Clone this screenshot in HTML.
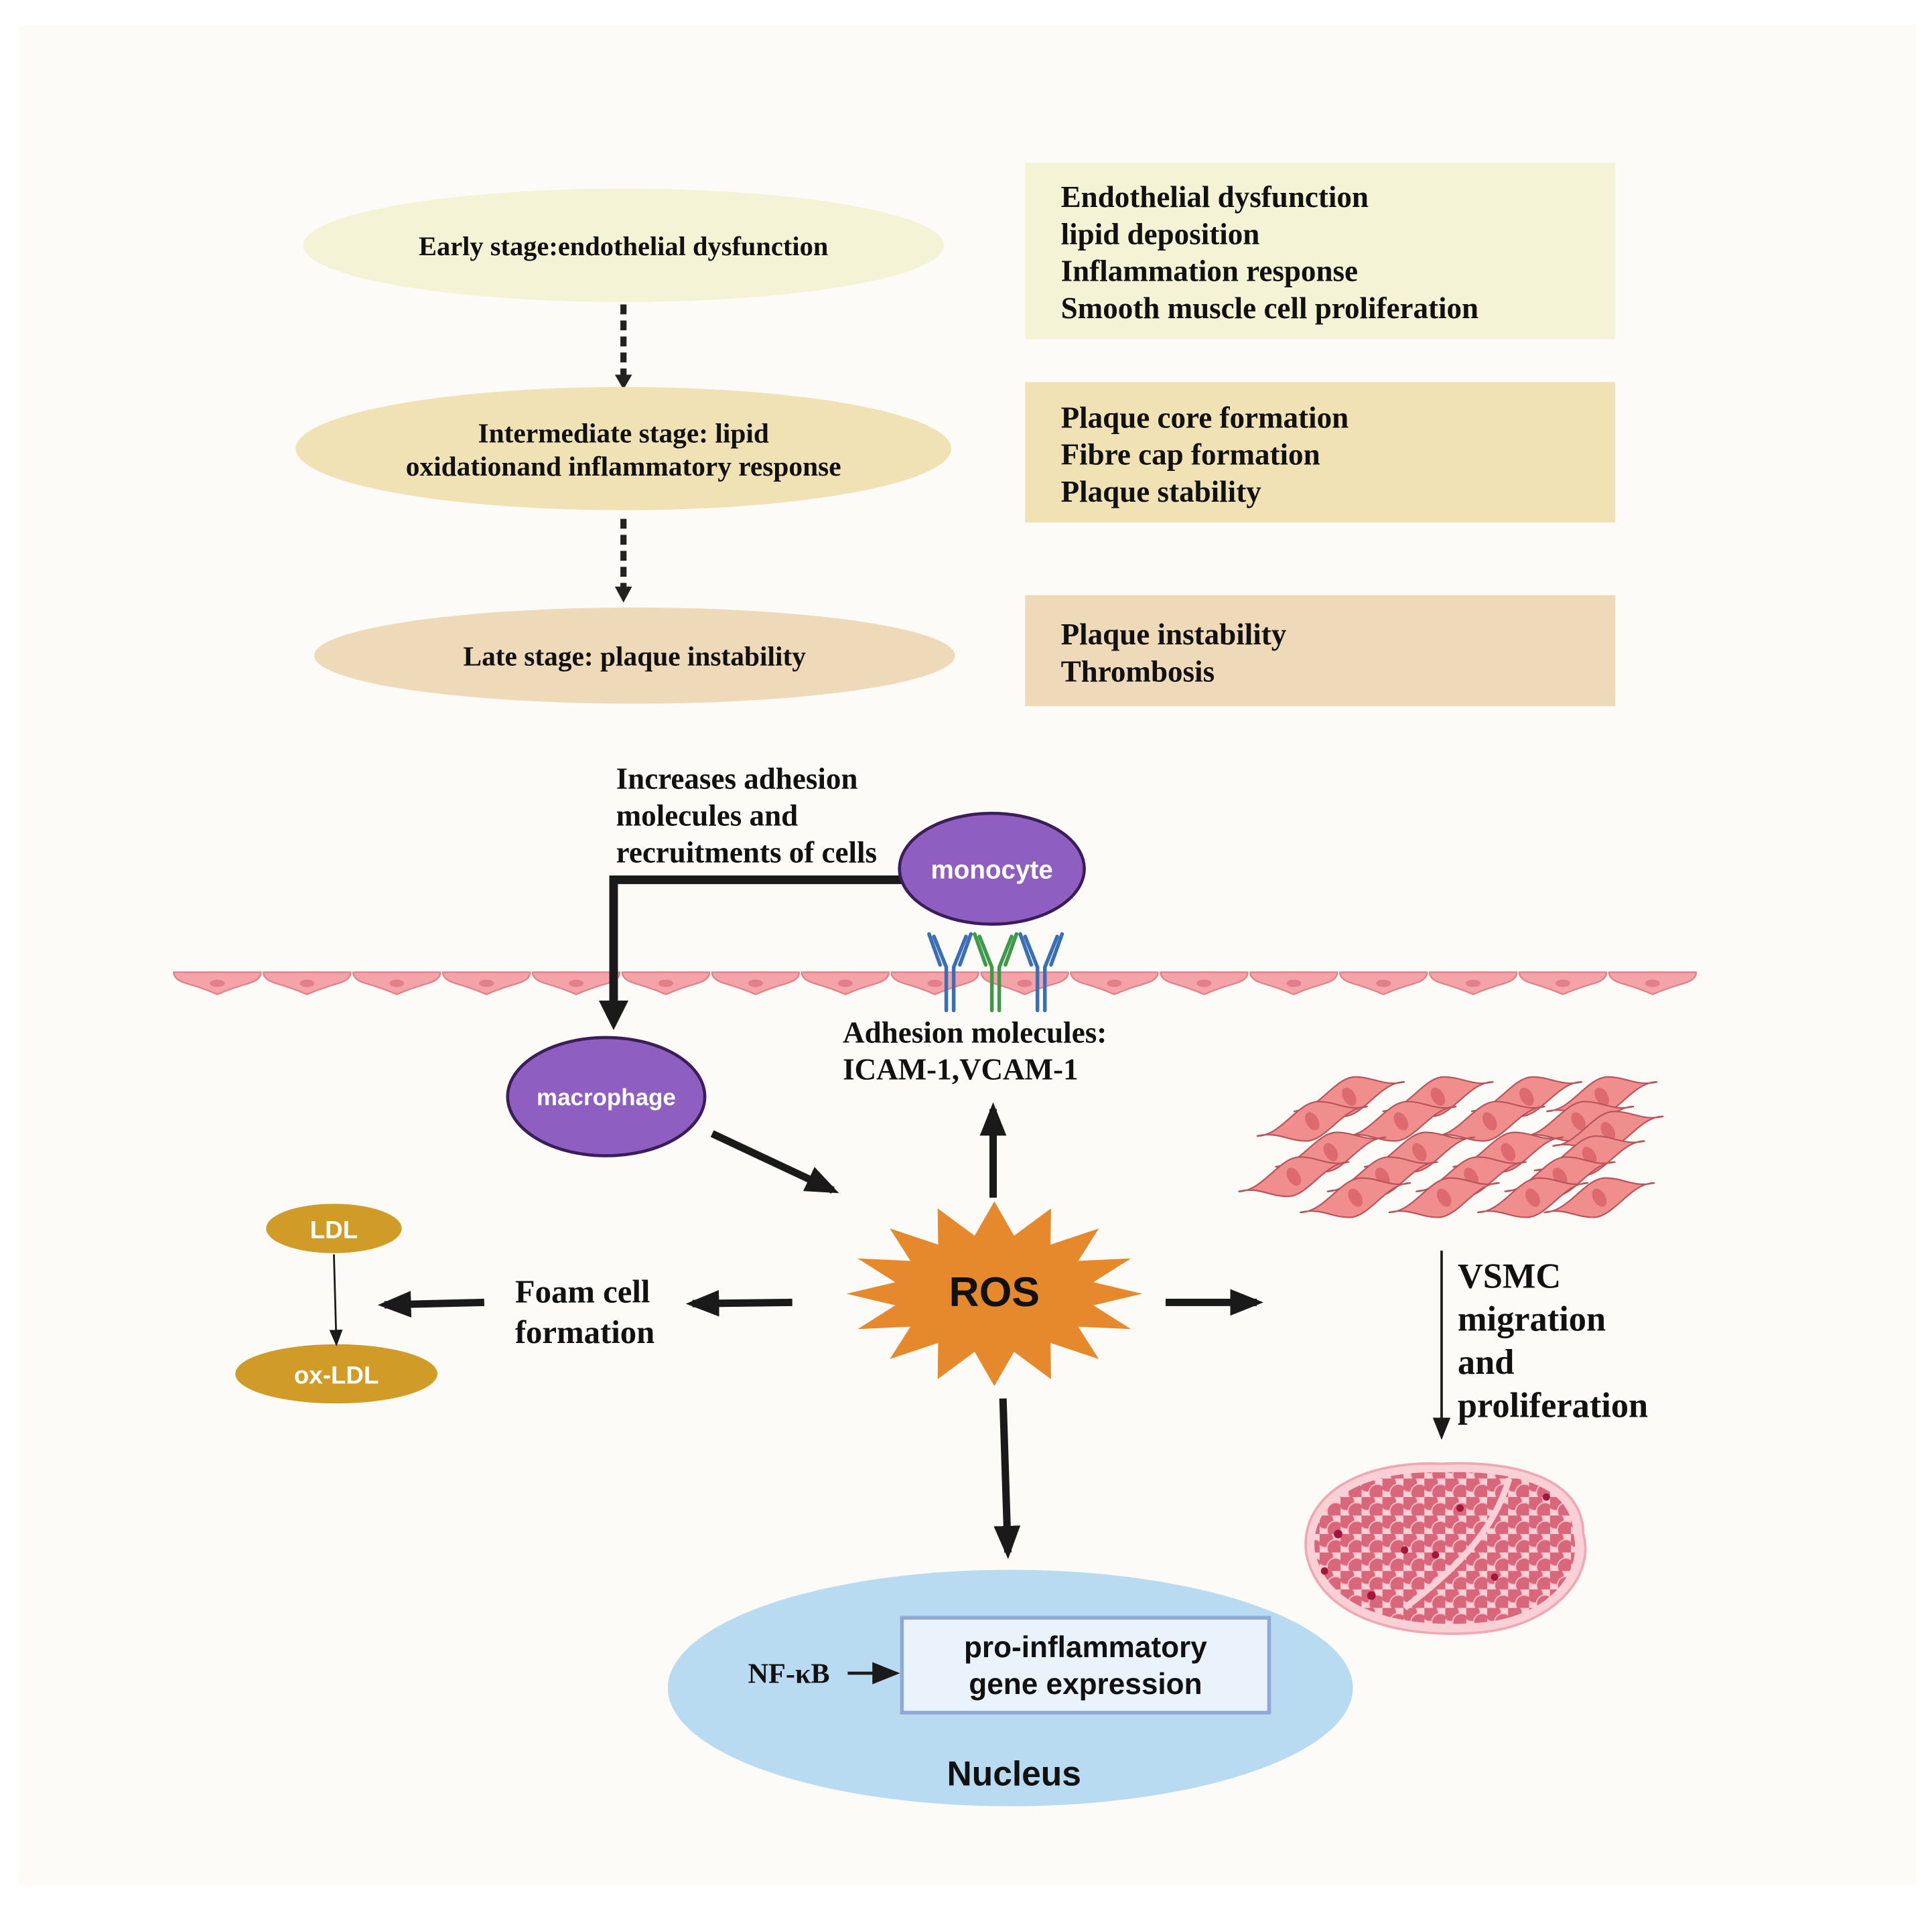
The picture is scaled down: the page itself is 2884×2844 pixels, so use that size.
<!DOCTYPE html>
<html><head><meta charset="utf-8"><style>
html,body{margin:0;padding:0;background:#fff;}
svg{display:block;}
.s{font-family:"Liberation Serif",serif;font-weight:bold;fill:#111;}
.a{font-family:"Liberation Sans",sans-serif;font-weight:bold;}
</style></head><body>
<svg width="2884" height="2844" viewBox="0 0 1568 1546" xmlns="http://www.w3.org/2000/svg">
<defs>
<marker id="ah2" viewBox="0 0 10 10" refX="8" refY="5" markerWidth="9" markerHeight="9" orient="auto"><path d="M0,1 L10,5 L0,9 Z" fill="#1a1a1a"/></marker>
<marker id="ah3" viewBox="0 0 10 10" refX="8" refY="5" markerWidth="4.5" markerHeight="4.5" orient="auto"><path d="M0,1 L10,5 L0,9 Z" fill="#1a1a1a"/></marker>
<pattern id="endo" x="140" y="785" width="72.8" height="30" patternUnits="userSpaceOnUse">
<path d="M1,4 L71.8,4 Q72,10 62,13 Q48,17 36.4,22 Q25,17 11,13 Q1,10 1,4 Z" fill="#f4a4a8" stroke="#df7f86" stroke-width="1.2"/>
<ellipse cx="36.4" cy="13" rx="6" ry="3" fill="#e27f88"/>
</pattern>
<pattern id="cl" x="0" y="0" width="17" height="15" patternUnits="userSpaceOnUse">
<circle cx="4.5" cy="4" r="7" fill="#d9667a" stroke="#f3c3cb" stroke-width="1"/>
<circle cx="13" cy="11.5" r="7" fill="#d9667a" stroke="#f3c3cb" stroke-width="1"/>
</pattern>
<g id="sp"><path d="M-45,12 C-25,12 -12,-16 5,-16 C20,-16 28,-8 45,-12 C25,-12 12,16 -5,16 C-20,16 -28,8 -45,12 Z" fill="#f08e8e" stroke="#b9545a" stroke-width="1.2"/><ellipse cx="0" cy="0" rx="5" ry="8" transform="rotate(-30)" fill="#dc6a6e"/></g>
</defs>
<rect width="1568" height="1546" fill="#fff"/>
<rect x="15" y="20" width="1540" height="1510" fill="#fcfbf7"/>

<ellipse cx="506" cy="199" rx="260" ry="46" fill="#f5f3d6"/>
<text x="506" y="207" text-anchor="middle" class="s" font-size="22">Early stage:endothelial dysfunction</text>
<line x1="506" y1="247" x2="506" y2="306" stroke="#222" stroke-width="5" stroke-dasharray="8,5"/>
<path d="M499,304 L513,304 L506,316 Z" fill="#222"/>
<ellipse cx="506" cy="364" rx="266" ry="50" fill="#f1e2b5"/>
<text x="506" y="359" text-anchor="middle" class="s" font-size="22.5">Intermediate stage: lipid</text>
<text x="506" y="386" text-anchor="middle" class="s" font-size="22.5">oxidationand inflammatory response</text>
<line x1="506" y1="421" x2="506" y2="478" stroke="#222" stroke-width="5" stroke-dasharray="8,5"/>
<path d="M499,476 L513,476 L506,489 Z" fill="#222"/>
<ellipse cx="515" cy="532" rx="260" ry="39" fill="#eed9b9"/>
<text x="515" y="540" text-anchor="middle" class="s" font-size="22.5">Late stage: plaque instability</text>

<rect x="832" y="132" width="479" height="143" fill="#f5f3d6"/>
<g class="s" font-size="24.5"><text x="861" y="168">Endothelial dysfunction</text><text x="861" y="198">lipid deposition</text><text x="861" y="228">Inflammation response</text><text x="861" y="258">Smooth muscle cell proliferation</text></g>
<rect x="832" y="310" width="479" height="114" fill="#f1e2b5"/>
<g class="s" font-size="24.5"><text x="861" y="347">Plaque core formation</text><text x="861" y="377">Fibre cap formation</text><text x="861" y="407">Plaque stability</text></g>
<rect x="832" y="483" width="479" height="90" fill="#eed9b9"/>
<g class="s" font-size="24.5"><text x="861" y="523">Plaque instability</text><text x="861" y="553">Thrombosis</text></g>

<g class="s" font-size="24.5"><text x="500" y="640">Increases adhesion</text><text x="500" y="670">molecules and</text><text x="500" y="700">recruitments of cells</text></g>
<rect x="140" y="785" width="1238" height="30" fill="url(#endo)"/>
<path d="M733,714 L498,714 L498,818" fill="none" stroke="#1a1a1a" stroke-width="7"/>
<path d="M486,812 L510,812 L498,836 Z" fill="#1a1a1a"/>
<g fill="none" stroke-width="3" stroke-linecap="round">
<g stroke="#3a6fb5"><path d="M768,820 V785 L758,760 M774,820 V785 L784,760 M763,783 L754,758 M779,783 L788,758"/></g>
<g stroke="#3e9a4a"><path d="M805,820 V785 L795,760 M811,820 V785 L821,760 M800,783 L791,758 M816,783 L825,758"/></g>
<g stroke="#3a6fb5"><path d="M842,820 V785 L832,760 M848,820 V785 L858,760 M837,783 L828,758 M853,783 L862,758"/></g>
</g>
<ellipse cx="805" cy="705" rx="75" ry="45" fill="#8e5fc1" stroke="#3b1d5a" stroke-width="2.5"/>
<text x="805" y="713" text-anchor="middle" class="a" font-size="21" fill="#fff">monocyte</text>
<g class="s" font-size="24.5"><text x="684" y="846">Adhesion molecules:</text><text x="684" y="876">ICAM-1,VCAM-1</text></g>
<ellipse cx="492" cy="890" rx="80" ry="48" fill="#8e5fc1" stroke="#3b1d5a" stroke-width="2.5"/>
<text x="492" y="897" text-anchor="middle" class="a" font-size="19" fill="#fff">macrophage</text>

<g stroke="#1a1a1a" stroke-width="6" fill="none">
<line x1="578" y1="920" x2="676" y2="966" marker-end="url(#ah3)"/>
<line x1="806" y1="972" x2="806" y2="900" marker-end="url(#ah3)"/>
<line x1="643" y1="1057" x2="562" y2="1058" marker-end="url(#ah3)"/>
<line x1="393" y1="1057" x2="312" y2="1059" marker-end="url(#ah3)"/>
<line x1="946" y1="1057" x2="1020" y2="1057" marker-end="url(#ah3)"/>
<line x1="814" y1="1135" x2="818" y2="1260" marker-end="url(#ah3)"/>
</g>
<polygon fill="#e6892c" points="927,1050 887.4,1059.4 917.9,1078.7 875.1,1076.7 891.8,1103 852.6,1089.9 853,1119.3 823,1097.1 807,1125 791,1097.1 761,1119.3 761.4,1089.9 722.2,1103 738.9,1076.7 696.1,1078.7 726.6,1059.4 687,1050 726.6,1040.6 696.1,1021.3 738.9,1023.3 722.2,997 761.4,1010.1 761,980.7 791,1002.9 807,975 823,1002.9 853,980.7 852.6,1010.1 891.8,997 875.1,1023.3 917.9,1021.3 887.4,1040.6"/>
<text x="807" y="1060" text-anchor="middle" class="a" font-size="34" fill="#111">ROS</text>
<g class="s" font-size="26.5"><text x="418" y="1057">Foam cell</text><text x="418" y="1090">formation</text></g>
<ellipse cx="271" cy="997" rx="55" ry="20" fill="#d19b27"/>
<text x="271" y="1005" text-anchor="middle" class="a" font-size="20" fill="#fff">LDL</text>
<ellipse cx="273" cy="1115" rx="82" ry="24" fill="#d19b27"/>
<text x="273" y="1123" text-anchor="middle" class="a" font-size="20" fill="#fff">ox-LDL</text>
<line x1="271" y1="1018" x2="273" y2="1090" stroke="#1a1a1a" stroke-width="1.5" marker-end="url(#ah2)"/>

<!-- VSMC sheet: tidy rows -->
<g>
<use href="#sp" x="1095" y="890"/><use href="#sp" x="1167" y="890"/><use href="#sp" x="1239" y="890"/><use href="#sp" x="1300" y="890"/>
<use href="#sp" x="1065" y="910"/><use href="#sp" x="1137" y="910"/><use href="#sp" x="1209" y="910"/><use href="#sp" x="1281" y="910"/><use href="#sp" x="1305" y="918"/>
<use href="#sp" x="1080" y="935"/><use href="#sp" x="1152" y="935"/><use href="#sp" x="1224" y="935"/><use href="#sp" x="1290" y="938"/>
<use href="#sp" x="1050" y="955"/><use href="#sp" x="1122" y="955"/><use href="#sp" x="1194" y="955"/><use href="#sp" x="1266" y="955"/>
<use href="#sp" x="1100" y="972"/><use href="#sp" x="1172" y="972"/><use href="#sp" x="1244" y="972"/><use href="#sp" x="1298" y="972"/>
</g>
<line x1="1170" y1="1015" x2="1170" y2="1165" stroke="#1a1a1a" stroke-width="2" marker-end="url(#ah2)"/>
<g class="s" font-size="28.5"><text x="1183" y="1045">VSMC</text><text x="1183" y="1080">migration</text><text x="1183" y="1115">and</text><text x="1183" y="1150">proliferation</text></g>
<path d="M1060,1260 C1055,1210 1110,1185 1170,1188 C1230,1185 1285,1200 1285,1245 C1295,1280 1260,1320 1200,1325 C1140,1330 1070,1315 1060,1260 Z" fill="#f9d0d6" stroke="#f0a8b3" stroke-width="2"/>
<path d="M1067,1258 C1063,1215 1112,1193 1170,1195 C1228,1193 1276,1205 1277,1245 C1285,1278 1255,1313 1200,1317 C1140,1322 1076,1308 1067,1258 Z" fill="url(#cl)"/>
<path d="M1225,1200 C1215,1230 1200,1260 1140,1305" stroke="#f9d0d6" stroke-width="5" fill="none"/>
<g fill="#a3173b"><circle cx="1086" cy="1245" r="3.5"/><circle cx="1113" cy="1295" r="3.5"/><circle cx="1140" cy="1258" r="3"/><circle cx="1185" cy="1224" r="3"/><circle cx="1213" cy="1280" r="3"/><circle cx="1255" cy="1215" r="3"/><circle cx="1165" cy="1262" r="3"/><circle cx="1075" cy="1275" r="3"/></g>

<ellipse cx="820" cy="1370" rx="278" ry="96" fill="#b8dbf2"/>
<rect x="732" y="1313" width="298" height="77" fill="#eaf3fc" stroke="#8fa8d8" stroke-width="3"/>
<text x="881" y="1345" text-anchor="middle" class="a" font-size="24" fill="#111">pro-inflammatory</text>
<text x="881" y="1375" text-anchor="middle" class="a" font-size="24" fill="#111">gene expression</text>
<text x="607" y="1366" class="s" font-size="23">NF-κB</text>
<line x1="688" y1="1358" x2="726" y2="1358" stroke="#1a1a1a" stroke-width="2.5" marker-end="url(#ah2)"/>
<text x="823" y="1449" text-anchor="middle" class="a" font-size="28" fill="#111">Nucleus</text>
</svg>
</body></html>
